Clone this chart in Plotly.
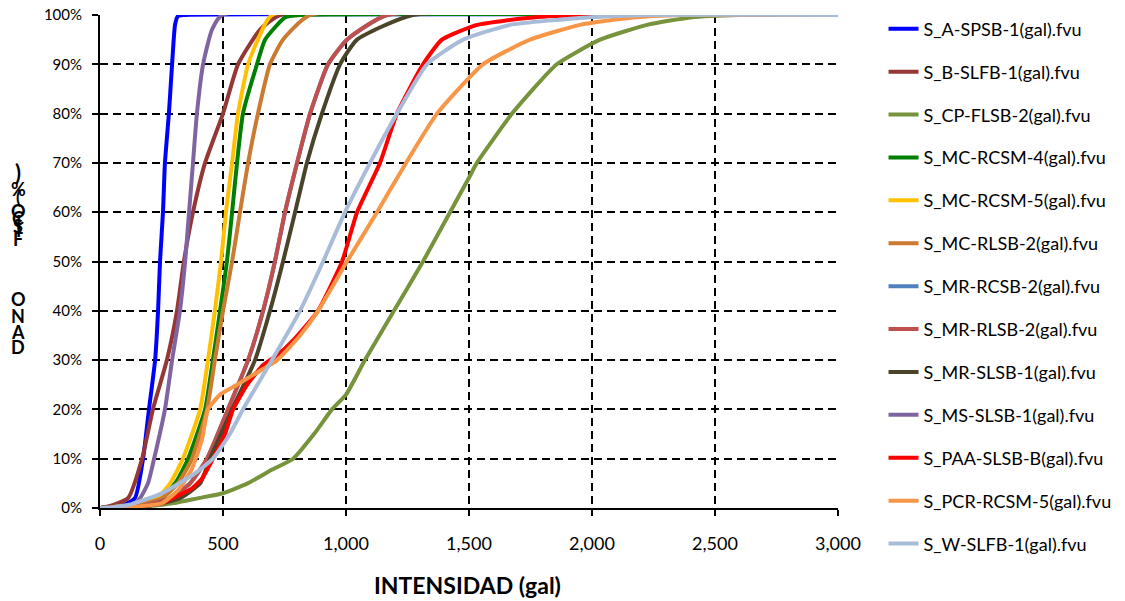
import plotly.graph_objects as go

# Intensity (gal) / damage (%) pairs
names = ["S_A-SPSB-1(gal).fvu", "S_B-SLFB-1(gal).fvu", "S_CP-FLSB-2(gal).fvu",
         "S_MC-RCSM-4(gal).fvu", "S_MC-RCSM-5(gal).fvu", "S_MC-RLSB-2(gal).fvu",
         "S_MR-RCSB-2(gal).fvu", "S_MR-RLSB-2(gal).fvu", "S_MR-SLSB-1(gal).fvu",
         "S_MS-SLSB-1(gal).fvu", "S_PAA-SLSB-B(gal).fvu", "S_PCR-RCSM-5(gal).fvu",
         "S_W-SLFB-1(gal).fvu"]
colors = ["#0000FF", "#953735", "#77933C", "#008000", "#FFC000", "#CB7A32",
          "#4F81BD", "#C0504D", "#4A452A", "#8064A2", "#FF0000", "#F79646",
          "#A8BBD9"]

a_spsb_x = [0, 80, 142, 175, 199, 224, 236, 244, 256, 264, 280, 293, 305, 317, 340, 3000]
a_spsb_y = [0, 0.3, 2, 10, 20, 30, 40, 50, 60, 70, 80, 90, 98, 99.8, 100, 100]

b_slfb_x = [0, 33, 114, 171, 215, 272, 313, 341, 378, 427, 500, 561, 650, 732, 3000]
b_slfb_y = [0, 0.3, 2, 10, 20, 30, 40, 50, 60, 70, 80, 90, 97, 100, 100]

cp_flsb_x = [0, 150, 300, 400, 500, 600, 700, 785, 870, 943, 1000, 1077, 1195, 1313, 1423, 1500, 1532, 1675, 1857, 2033, 2224, 2400, 2600, 3000]
cp_flsb_y = [0, 0.2, 1, 2, 3, 5, 7.8, 10, 15, 20, 23, 30, 40, 50, 60, 67, 70, 80, 90, 95, 98, 99.5, 100, 100]

mc_rcsm4_x = [0, 122, 224, 305, 358, 427, 459, 488, 516, 537, 557, 581, 638, 671, 752, 813, 3000]
mc_rcsm4_y = [0, 0.5, 2, 5, 10, 20, 30, 40, 50, 60, 70, 80, 90, 95, 99.5, 100, 100]

mc_rcsm5_x = [0, 120, 232, 285, 337, 407, 439, 467, 492, 512, 537, 561, 602, 642, 699, 3000]
mc_rcsm5_y = [0, 0.5, 2, 5, 10, 20, 30, 40, 50, 60, 70, 80, 90, 95, 100, 100]

mc_rlsb_x = [0, 140, 252, 317, 374, 435, 467, 500, 537, 569, 602, 642, 691, 744, 854, 3000]
mc_rlsb_y = [0, 0.5, 2, 5, 10, 20, 30, 40, 50, 60, 70, 80, 90, 95, 100, 100]

mr_rcsb_x = [0, 183, 285, 366, 435, 520, 602, 663, 711, 752, 801, 854, 927, 1004, 1167, 3000]
mr_rcsb_y = [0, 0.5, 2, 5, 10, 20, 30, 40, 50, 60, 70, 80, 90, 95, 100, 100]

mr_rlsb_x = [0, 183, 285, 366, 435, 520, 602, 663, 711, 752, 801, 854, 927, 1004, 1167, 3000]
mr_rlsb_y = [0, 0.5, 2, 5, 10, 20, 30, 40, 50, 60, 70, 80, 90, 95, 100, 100]

mr_slsb_x = [0, 203, 325, 407, 447, 537, 630, 691, 744, 793, 841, 902, 976, 1045, 1272, 3000]
mr_slsb_y = [0, 0.5, 2, 5, 10, 20, 30, 40, 50, 60, 70, 80, 90, 95, 100, 100]

ms_slsb_x = [0, 134, 163, 195, 220, 264, 293, 325, 346, 362, 378, 394, 419, 455, 496, 3000]
ms_slsb_y = [0, 0.5, 2, 5, 10, 20, 30, 40, 50, 60, 70, 80, 90, 97, 100, 100]

paa_slsb_x = [0, 120, 252, 317, 374, 415, 459, 508, 541, 598, 663, 720, 785, 886, 984, 1045, 1138, 1207, 1313, 1390, 1533, 1760, 1980, 3000]
paa_slsb_y = [0, 0.2, 1, 2.5, 4, 6, 10, 15, 20, 25, 29, 31, 34, 40, 50, 60, 70, 80, 90, 95, 98, 99.5, 100, 100]

pcr_rcsm_x = [0, 120, 252, 317, 374, 415, 439, 488, 557, 622, 720, 813, 886, 1004, 1126, 1244, 1370, 1557, 1748, 1951, 2167, 2370, 3000]
pcr_rcsm_y = [0, 0.2, 1, 3.6, 8, 14, 20, 23, 25, 27, 30, 35, 40, 50, 60, 70, 80, 90, 95, 98, 99.5, 100, 100]

w_slfb_x = [0, 8, 114, 252, 386, 459, 528, 581, 699, 813, 907, 996, 1098, 1207, 1329, 1476, 1667, 1980, 2248, 3000]
w_slfb_y = [0, 0, 0.6, 3, 7, 10, 15, 20, 30, 40, 50, 60, 70, 80, 90, 95, 98, 99.5, 100, 100]

series_x = [a_spsb_x, b_slfb_x, cp_flsb_x, mc_rcsm4_x, mc_rcsm5_x, mc_rlsb_x, mr_rcsb_x,
            mr_rlsb_x, mr_slsb_x, ms_slsb_x, paa_slsb_x, pcr_rcsm_x, w_slfb_x]
series_y = [a_spsb_y, b_slfb_y, cp_flsb_y, mc_rcsm4_y, mc_rcsm5_y, mc_rlsb_y, mr_rcsb_y,
            mr_rlsb_y, mr_slsb_y, ms_slsb_y, paa_slsb_y, pcr_rcsm_y, w_slfb_y]

x_ticks = [0, 500, 1000, 1500, 2000, 2500, 3000]
x_tick_text = ["0", "500", "1,000", "1,500", "2,000", "2,500", "3,000"]
y_ticks = [0, 10, 20, 30, 40, 50, 60, 70, 80, 90, 100]
y_tick_text = ["0%", "10%", "20%", "30%", "40%", "50%", "60%", "70%", "80%", "90%", "100%"]
x_title = "INTENSIDAD (gal)"
y_title_chars = [")", "%", "(", "O", "C", "I", "S", "I", "F", "O", "N", "A", "D"]
y_title_px = [172, 189, 197, 211, 218, 222, 226, 230, 239, 299, 316, 332, 347]
y_title_sizes = [22, 18, 18, 18, 18, 18, 18, 18, 18, 18, 18, 18, 18]

FONT = "Lato, 'Open Sans', sans-serif"

fig = go.Figure()
for nm, col, xs, ys in zip(names, colors, series_x, series_y):
    fig.add_trace(go.Scatter(
        x=xs, y=ys, name=nm, mode="lines", legendgroup=nm,
        line=dict(color=col, width=4, shape="spline", smoothing=0.5),
    ))

# page body adds an 8px offset; compensate so the plot lands where the reference has it
OFF = 8
W, H = 1125, 601
PL, PR, PT, PB = 100, 838, 15, 508   # target plot-area pixel box on screen
L = PL - OFF
T = PT - OFF
plot_w = PR - PL
plot_h = PB - PT
R = W - L - plot_w
B = H - T - plot_h

annotations = []
for ch, py, sz in zip(y_title_chars, y_title_px, y_title_sizes):
    annotations.append(dict(
        text="<b>%s</b>" % ch, xref="paper", yref="paper",
        x=(18 - PL) / plot_w, y=(PB - py) / plot_h,
        xanchor="center", yanchor="middle", showarrow=False,
        font=dict(family=FONT, size=sz, color="black"),
    ))
annotations.append(dict(
    text="<b>%s</b>" % x_title, xref="paper", yref="paper",
    x=(467 - PL) / plot_w, y=(PB - 585) / plot_h,
    xanchor="center", yanchor="middle", showarrow=False,
    font=dict(family=FONT, size=23, color="black"),
))

fig.update_layout(
    width=W, height=H,
    margin=dict(l=L, r=R, t=T, b=B, pad=0, autoexpand=False),
    paper_bgcolor="white", plot_bgcolor="white",
    font=dict(family=FONT, size=16, color="black"),
    showlegend=True,
    legend=dict(x=(885 - PL) / plot_w - 0.002, xanchor="left", y=1.009, yanchor="top",
                font=dict(family=FONT, size=18, color="black"),
                tracegroupgap=16.5, bgcolor="rgba(0,0,0,0)", maxheight=600),
    annotations=annotations,
    xaxis=dict(range=[0, 3000], tickvals=x_ticks, ticktext=x_tick_text,
               tickfont=dict(family=FONT, size=18, color="black"),
               showgrid=True, gridcolor="black", gridwidth=2, griddash="8px,5px",
               showline=True, linecolor="black", linewidth=2,
               ticks="outside", ticklen=6, tickwidth=2, tickcolor="black",
               ticklabelstandoff=12, zeroline=False, automargin=False,
               ticklabeloverflow="allow"),
    yaxis=dict(range=[0, 100], tickvals=y_ticks, ticktext=y_tick_text,
               tickfont=dict(family=FONT, size=15, color="black"),
               showgrid=True, gridcolor="black", gridwidth=2, griddash="8px,5px",
               showline=True, linecolor="black", linewidth=2,
               ticks="outside", ticklen=6, tickwidth=2, tickcolor="black",
               ticklabelstandoff=7, zeroline=False, automargin=False,
               ticklabeloverflow="allow"),
)

fig.write_html("out.html")
